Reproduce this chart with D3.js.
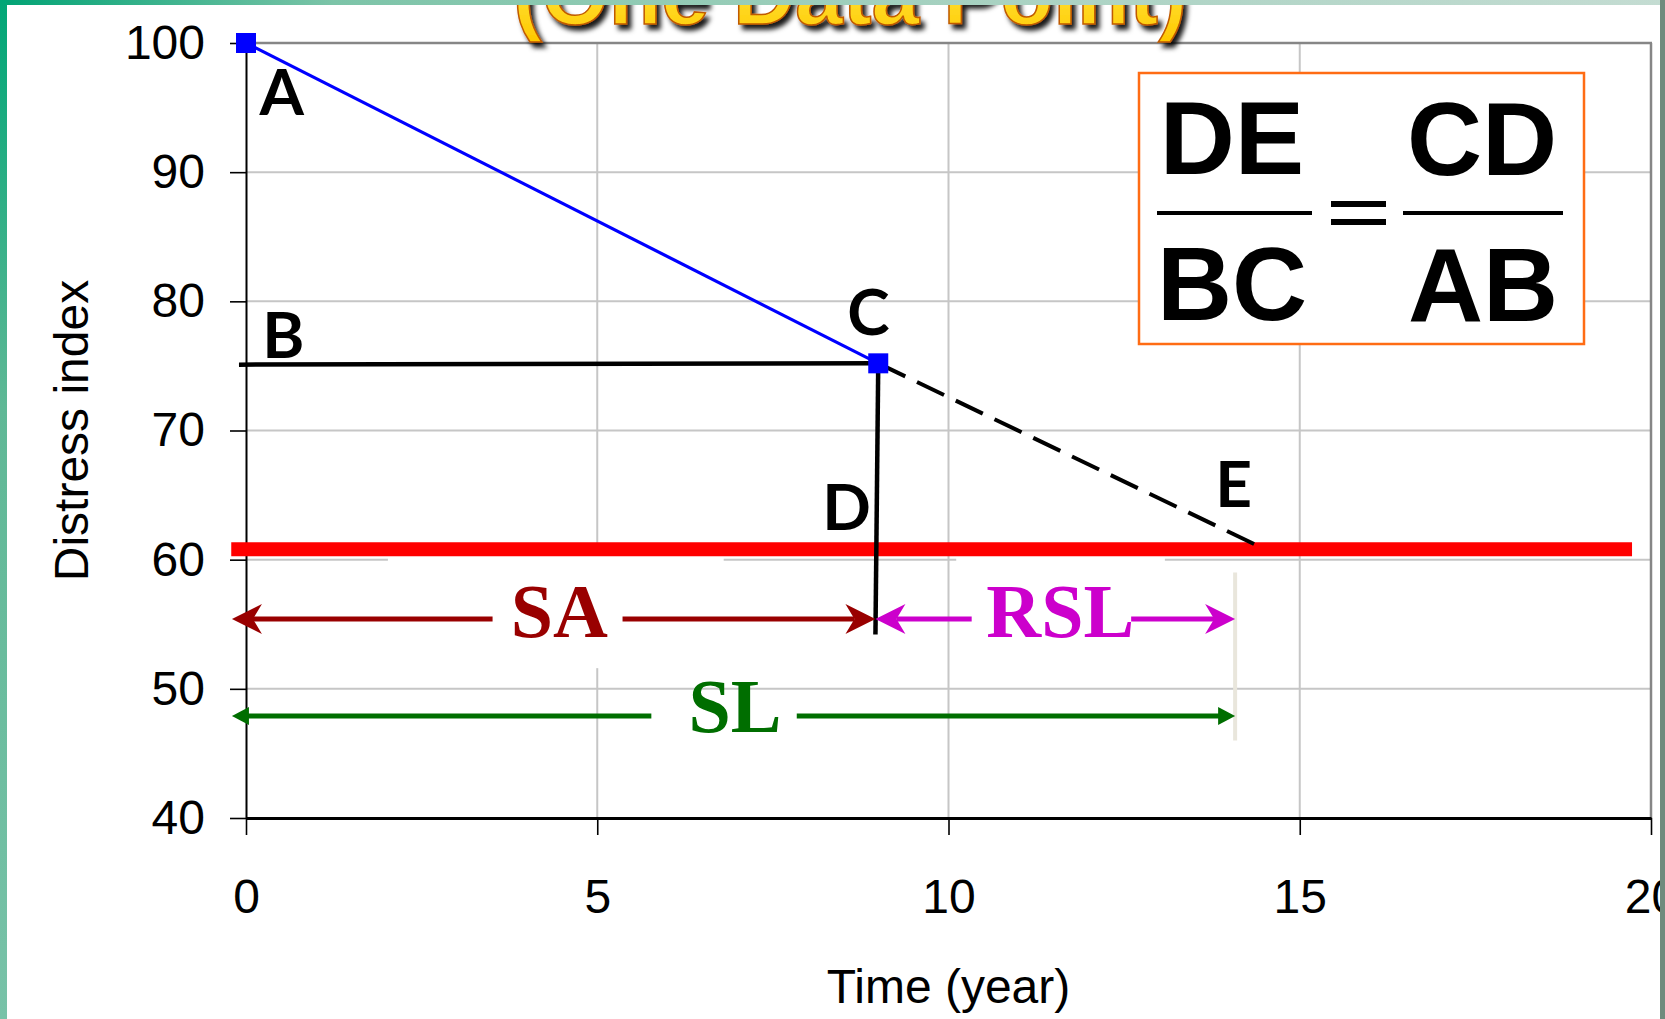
<!DOCTYPE html>
<html>
<head>
<meta charset="utf-8">
<script src="https://cdn.jsdelivr.net/npm/d3@7"></script>
<style>
  html, body { margin: 0; padding: 0; background: #fff; overflow: hidden; }
  svg { display: block; }
</style>
</head>
<body>
<div id="chart"></div>
<script>
// ---- data ----
var xTicks = [0, 5, 10, 15, 20];
var yTicks = [40, 50, 60, 70, 80, 90, 100];
var gridX = [5, 10, 15];
var gridY = [50, 60, 70, 80, 90];

var measured = [{x: 0, y: 100}, {x: 9, y: 75.2}];        // A -> C
var extrapolated = [{x: 9, y: 75.2}, {x: 14.43, y: 61.0}]; // C -> E (dashed)
var lineBC = [{x: -0.1, y: 75.1}, {x: 9, y: 75.2}];
var lineCD = [{x: 9, y: 75.2}, {x: 8.96, y: 54.2}];
var threshold = [{x: -0.21, y: 60.8}, {x: 19.73, y: 60.8}];
var lifeEnd = [{x: 14.08, y: 59.0}, {x: 14.08, y: 46.0}];

var pointLabels = [
  {t: "A", x: 0.51, y: 94.4},
  {t: "B", x: 0.53, y: 75.6},
  {t: "C", x: 8.86, y: 77.4},
  {t: "D", x: 8.55, y: 62.3},
  {t: "E", x: 14.06, y: 64.1}
];

var spans = [
  {name: "SA", color: "#990000", y: 55.4, from: -0.2, to: 8.96, gap: [3.51, 5.36], lx: 4.46, ly: 54.0, head: "big"},
  {name: "RSL", color: "#cc00cc", y: 55.4, from: 8.96, to: 14.08, gap: [10.33, 12.6], lx: 11.59, ly: 54.0, head: "big"},
  {name: "SL", color: "#006e00", y: 47.9, from: -0.2, to: 14.08, gap: [5.77, 7.84], lx: 6.96, ly: 46.66, head: "small"}
];

// white text boxes that hide the grid behind SA / RSL
var textBoxes = [
  {x0: 2.02, x1: 6.80, y0: 60.3, y1: 51.6},
  {x0: 10.11, x1: 13.08, y0: 60.3, y1: 52.5}
];

var W = 1665, H = 1019;
var margin = {top: 43, right: 11, bottom: 201, left: 246},
    width = W - margin.left - margin.right,
    height = H - margin.top - margin.bottom;

var svg = d3.select("#chart").append("svg")
    .attr("width", W)
    .attr("height", H);

var defs = svg.append("defs");
var tg = defs.append("linearGradient").attr("id", "titleFill")
    .attr("x1", 0).attr("y1", 0).attr("x2", 0).attr("y2", 1);
tg.append("stop").attr("offset", "0%").attr("stop-color", "#fff45a");
tg.append("stop").attr("offset", "100%").attr("stop-color", "#ffc800");
defs.append("filter").attr("id", "shadow")
    .attr("x", "-10%").attr("y", "-10%").attr("width", "130%").attr("height", "150%")
  .append("feDropShadow")
    .attr("dx", 4).attr("dy", 5).attr("stdDeviation", 2.5)
    .attr("flood-color", "#000").attr("flood-opacity", 0.9);

var topG = defs.append("linearGradient").attr("id", "topStrip");
topG.append("stop").attr("offset", "0%").attr("stop-color", "#00a374");
topG.append("stop").attr("offset", "20%").attr("stop-color", "#7cc4a8");
topG.append("stop").attr("offset", "60%").attr("stop-color", "#a9d2c2");
topG.append("stop").attr("offset", "100%").attr("stop-color", "#c4dcd2");
var leftG = defs.append("linearGradient").attr("id", "leftStrip")
    .attr("x1", 0).attr("y1", 0).attr("x2", 0).attr("y2", 1);
leftG.append("stop").attr("offset", "0%").attr("stop-color", "#00a676");
leftG.append("stop").attr("offset", "40%").attr("stop-color", "#5fb896");
leftG.append("stop").attr("offset", "100%").attr("stop-color", "#78c2a8");

var x = d3.scaleLinear().domain([0, 20]).range([0, width - 3]);
var y = d3.scaleLinear().domain([40, 100]).range([height, 0]);

var g = svg.append("g")
    .attr("transform", "translate(" + margin.left + "," + margin.top + ")");

// grid
g.append("g").selectAll("line").data(gridX).enter().append("line")
    .attr("x1", d => x(d)).attr("x2", d => x(d))
    .attr("y1", 0).attr("y2", height)
    .style("stroke", "#c6c6c6").style("stroke-width", 2);
g.append("g").selectAll("line").data(gridY).enter().append("line")
    .attr("x1", 0).attr("x2", x(20))
    .attr("y1", d => y(d)).attr("y2", d => y(d))
    .style("stroke", "#c6c6c6").style("stroke-width", 2);

// plot border (top & right)
g.append("line").attr("x1", 0).attr("x2", x(20) + 1).attr("y1", y(100)).attr("y2", y(100))
    .style("stroke", "#868686").style("stroke-width", 2.5);
g.append("line").attr("x1", x(20)).attr("x2", x(20)).attr("y1", y(100)).attr("y2", y(40))
    .style("stroke", "#868686").style("stroke-width", 2.5);

// text boxes (white)
g.append("g").selectAll("rect").data(textBoxes).enter().append("rect")
    .attr("x", d => x(d.x0)).attr("y", d => y(d.y0))
    .attr("width", d => x(d.x1) - x(d.x0))
    .attr("height", d => y(d.y1) - y(d.y0))
    .style("fill", "#fff");

// axes
var xAxis = d3.axisBottom(x).tickValues(xTicks).tickSize(17).tickPadding(44).tickSizeOuter(0);
var yAxis = d3.axisLeft(y).tickValues(yTicks).tickSize(16).tickPadding(25).tickSizeOuter(0);

var gx = g.append("g").attr("transform", "translate(0," + height + ")").call(xAxis);
var gy = g.append("g").call(yAxis);
[gx, gy].forEach(function(a) {
  a.selectAll("text").style("font-family", "'Liberation Sans', Arial, sans-serif")
    .style("font-size", "48px").style("fill", "#000");
  a.selectAll(".tick line").style("stroke", "#000").style("stroke-width", 1.6);
});
gx.select(".domain").style("stroke", "#000").style("stroke-width", 3);
gy.select(".domain").style("stroke", "#000").style("stroke-width", 2);

var line = d3.line().x(d => x(d.x)).y(d => y(d.y));

// threshold
g.append("path").datum(threshold).attr("d", line)
    .style("stroke", "#ff0000").style("stroke-width", 14).style("fill", "none");

// end-of-life marker line
g.append("path").datum(lifeEnd).attr("d", line)
    .style("stroke", "#e9e6dc").style("stroke-width", 4).style("fill", "none");

// B-C and C-D
g.append("path").datum(lineBC).attr("d", line)
    .style("stroke", "#000").style("stroke-width", 4.5).style("fill", "none");
g.append("path").datum(lineCD).attr("d", line)
    .style("stroke", "#000").style("stroke-width", 4.5).style("fill", "none");

// dashed extrapolation
g.append("path").datum(extrapolated).attr("d", line)
    .style("stroke", "#000").style("stroke-width", 4).style("stroke-dasharray", "30,13")
    .style("fill", "none");

// measured line + squares
g.append("path").datum(measured).attr("d", line)
    .style("stroke", "#0000ff").style("stroke-width", 3.2).style("fill", "none");
g.append("g").selectAll("rect").data(measured).enter().append("rect")
    .attr("x", d => x(d.x) - 10).attr("y", d => y(d.y) - 10)
    .attr("width", 20).attr("height", 20)
    .style("fill", "#0000ff");

// point letters
g.append("g").selectAll("text").data(pointLabels).enter().append("text")
    .attr("x", d => x(d.x)).attr("y", d => y(d.y))
    .attr("text-anchor", "middle")
    .style("font-family", "Lato, 'Open Sans', sans-serif")
    .style("font-weight", "bold").style("font-size", "64px")
    .text(d => d.t);

// span arrows
var heads = {
  big: "M0,0 L-30,-15 L-21,0 L-30,15 Z",
  small: "M0,0 L-17,-9 L-17,9 Z"
};
spans.forEach(function(s) {
  var sg = g.append("g");
  var back = s.head === "big" ? 21 : 15;
  var segs = [[x(s.from) + back, x(s.gap[0])], [x(s.gap[1]), x(s.to) - back]];
  sg.selectAll("line").data(segs).enter().append("line")
      .attr("x1", d => d[0]).attr("x2", d => d[1])
      .attr("y1", y(s.y)).attr("y2", y(s.y))
      .style("stroke", s.color).style("stroke-width", 5);
  sg.append("path").attr("d", heads[s.head])
      .attr("transform", "translate(" + x(s.from) + "," + y(s.y) + ") rotate(180)")
      .style("fill", s.color);
  sg.append("path").attr("d", heads[s.head])
      .attr("transform", "translate(" + x(s.to) + "," + y(s.y) + ")")
      .style("fill", s.color);
  sg.append("text")
      .attr("x", x(s.lx)).attr("y", y(s.ly))
      .attr("text-anchor", "middle")
      .style("font-family", "'Liberation Serif', 'Times New Roman', serif")
      .style("font-weight", "bold").style("font-size", "76px")
      .style("fill", s.color)
      .text(s.name);
});

// formula box
var fb = svg.append("g").attr("transform", "translate(1139,73)");
fb.append("rect").attr("width", 445).attr("height", 271)
    .style("fill", "#fff").style("stroke", "#ff6c14").style("stroke-width", 2.5);
var fText = [
  {t: "DE", x: 93, y: 101}, {t: "BC", x: 93, y: 247},
  {t: "CD", x: 343, y: 102}, {t: "AB", x: 344, y: 248}
];
fb.selectAll("text").data(fText).enter().append("text")
    .attr("x", d => d.x).attr("y", d => d.y)
    .attr("text-anchor", "middle")
    .style("font-family", "'Liberation Sans', Arial, sans-serif")
    .style("font-weight", "bold").style("font-size", "104px")
    .text(d => d.t);
var bars = [
  {x: 18, w: 155, y: 138, h: 4}, {x: 264, w: 160, y: 138, h: 4},
  {x: 192, w: 55, y: 128, h: 6}, {x: 192, w: 55, y: 146, h: 6}
];
fb.selectAll("rect.bar").data(bars).enter().append("rect").attr("class", "bar")
    .attr("x", d => d.x).attr("y", d => d.y).attr("width", d => d.w).attr("height", d => d.h)
    .style("fill", "#000");

// axis titles
svg.append("text")
    .attr("x", margin.left + x(10)).attr("y", 1003)
    .attr("text-anchor", "middle")
    .style("font-family", "'Liberation Sans', Arial, sans-serif").style("font-size", "48px")
    .text("Time (year)");
svg.append("text")
    .attr("transform", "translate(88," + (margin.top + height / 2) + ") rotate(-90)")
    .attr("text-anchor", "middle")
    .style("font-family", "'Liberation Sans', Arial, sans-serif").style("font-size", "48px")
    .text("Distress index");

// slide title (cut off at the top, as in the slide)
svg.append("text")
    .attr("x", 850).attr("y", 24)
    .attr("text-anchor", "middle")
    .style("font-family", "'Liberation Sans', Arial, sans-serif")
    .style("font-weight", "bold").style("font-size", "86px")
    .style("fill", "url(#titleFill)")
    .style("stroke", "#c05a00").style("stroke-width", 1.5)
    .attr("filter", "url(#shadow)")
    .text("(One Data Point)");

// slide frame
svg.append("rect").attr("x", 0).attr("y", 0).attr("width", W).attr("height", 5)
    .style("fill", "url(#topStrip)");
svg.append("rect").attr("x", 0).attr("y", 0).attr("width", 7).attr("height", H)
    .style("fill", "url(#leftStrip)");
svg.append("rect").attr("x", 1660).attr("y", 0).attr("width", 5).attr("height", H)
    .style("fill", "#6f8b7d");
</script>
</body>
</html>
